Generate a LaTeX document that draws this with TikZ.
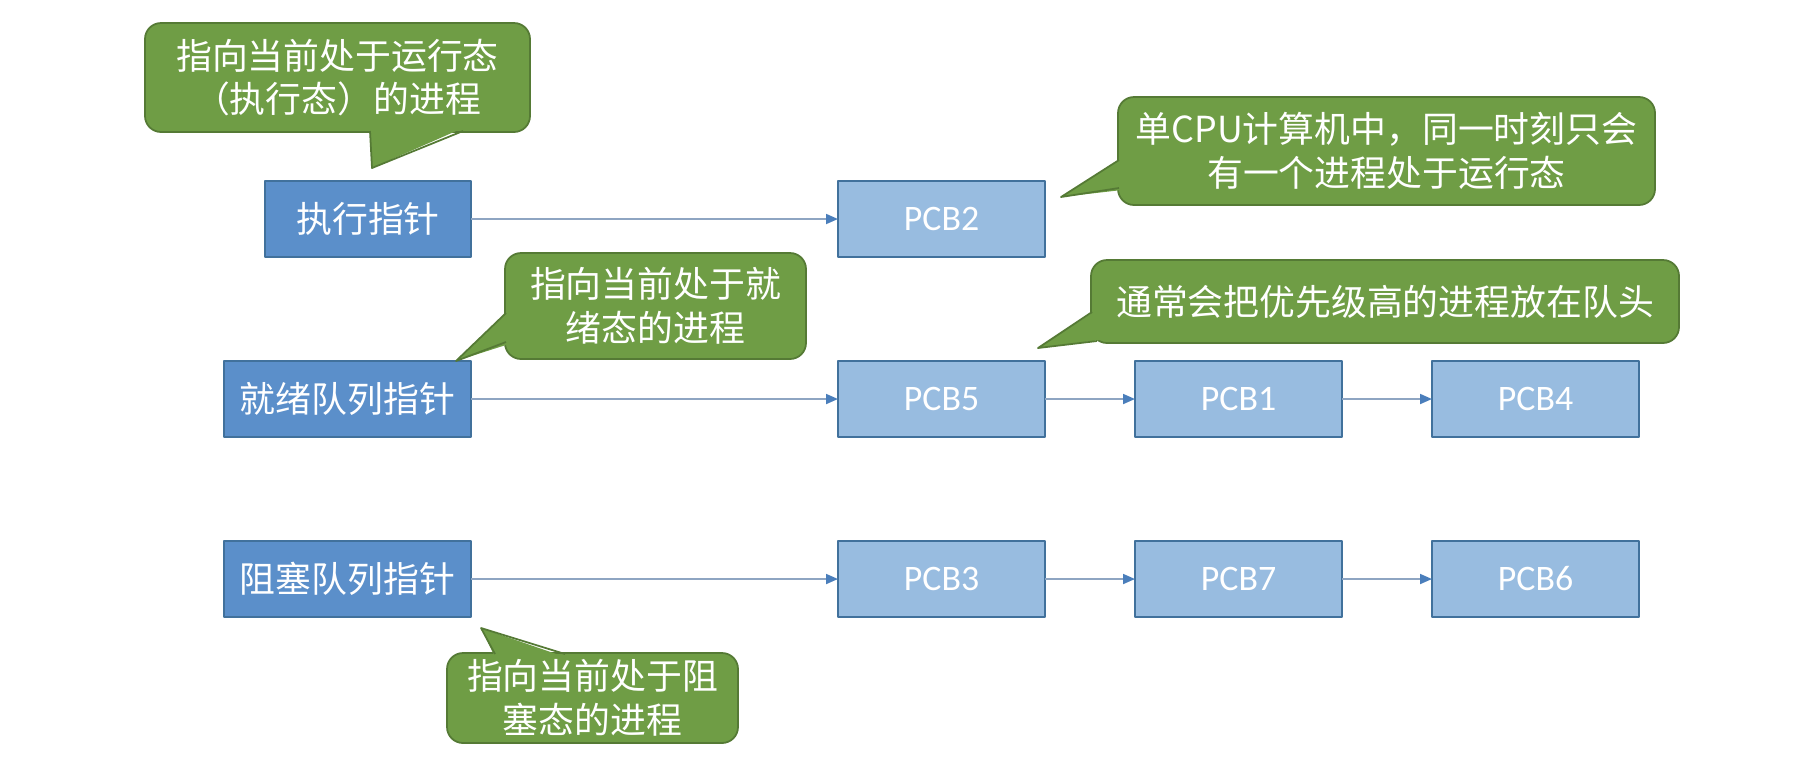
\documentclass[tikz,border=0pt]{standalone}
\usepackage{fontspec}
\setmainfont{Carlito}
\newfontfamily\cjk{Noto Sans CJK SC}
\usetikzlibrary{arrows.meta,positioning}
\definecolor{ptrblue}{HTML}{5B8FCA}
\definecolor{pcbblue}{HTML}{98BCE0}
\definecolor{boxedge}{HTML}{41719C}
\definecolor{notegreen}{HTML}{6F9D45}
\definecolor{noteedge}{HTML}{557A35}
\definecolor{linkgray}{HTML}{8EA5C2}
\definecolor{tipblue}{HTML}{4A7EBB}
\tikzset{
    every picture/.style={line join=round},
    ptrbox/.style={draw=boxedge,fill=ptrblue,line width=0.5pt,
      minimum height=7.6mm,inner sep=1pt,outer sep=0pt,
      text=white,font=\cjk\fontsize{10.2}{12.4}\selectfont},
    pcbbox/.style={draw=boxedge,fill=pcbblue,line width=0.5pt,
      minimum width=20.7mm,minimum height=7.6mm,inner sep=1pt,outer sep=0pt,
      text=white,font=\fontsize{10.2}{12.4}\selectfont},
    note/.style={draw=noteedge,fill=notegreen,line width=0.5pt,rounded corners=1.6mm,
      inner sep=1pt,outer sep=0pt,text=white,align=center,
      font=\cjk\fontsize{10.2}{12.4}\selectfont},
    notetail/.style={fill=notegreen},
    tailedge/.style={draw=noteedge,line width=0.5pt},
    link/.style={-{Triangle[length=1.2mm,width=1mm,color=tipblue]},draw=linkgray,
      line width=0.5pt}
}
\begin{document}
\begin{tikzpicture}[x=0.1mm,y=-0.1mm]
  \useasboundingbox (0,0) rectangle (1798,778);
  % pointer heads
  \node[ptrbox,minimum width=20.6mm] (execptr) at (368,219) {执行指针};
  \node[ptrbox,minimum width=24.7mm] (readyptr) at (347.5,399) {就绪队列指针};
  \node[ptrbox,minimum width=24.7mm] (blockptr) at (347.5,579) {阻塞队列指针};
  % PCB chains
  \node[pcbbox,right=36.7mm of execptr] (pcb2) {PCB2};
  \node[pcbbox,right=36.7mm of readyptr] (pcb5) {PCB5};
  \node[pcbbox,right=9mm of pcb5] (pcb1) {PCB1};
  \node[pcbbox,right=9mm of pcb1] (pcb4) {PCB4};
  \node[pcbbox,right=36.7mm of blockptr] (pcb3) {PCB3};
  \node[pcbbox,right=9mm of pcb3] (pcb7) {PCB7};
  \node[pcbbox,right=9mm of pcb7] (pcb6) {PCB6};
  \draw[link] (execptr) -- (pcb2);
  \draw[link] (readyptr) -- (pcb5);
  \draw[link] (pcb5) -- (pcb1);
  \draw[link] (pcb1) -- (pcb4);
  \draw[link] (blockptr) -- (pcb3);
  \draw[link] (pcb3) -- (pcb7);
  \draw[link] (pcb7) -- (pcb6);
  % callouts
  \node[note,minimum width=38.5mm,minimum height=10.9mm] (noterun) at (337.5,77.5)
    {指向当前处于运行态\\（执行态）的进程};
  \fill[notetail] (370,128) -- (372,168) -- (463,128) -- cycle;
  \draw[tailedge] (370,131) -- (372,168) -- (463,131);
  \node[note,minimum width=53.7mm,minimum height=10.8mm] (notecpu) at (1386.5,151)
    {单CPU计算机中，同一时刻只会\\有一个进程处于运行态};
  \fill[notetail] (1122,158) -- (1061,197) -- (1122,190) -- cycle;
  \draw[tailedge] (1119,160) -- (1061,197) -- (1119,188);
  \node[note,minimum width=30.1mm,minimum height=10.6mm] (noteready) at (655.5,306)
    {指向当前处于就\\绪态的进程};
  \fill[notetail] (509,311) -- (456,361) -- (509,344) -- cycle;
  \draw[tailedge] (506,313) -- (456,361) -- (506,342);
  \node[note,minimum width=58.8mm,minimum height=8.3mm] (notehead) at (1385,301.5)
    {通常会把优先级高的进程放在队头};
  \fill[notetail] (1095,311) -- (1038,348) -- (1100,340) -- cycle;
  \draw[tailedge] (1092,312) -- (1038,348) -- (1097,341);
  \node[note,minimum width=29.1mm,minimum height=9mm] (noteblock) at (592.5,698)
    {指向当前处于阻\\塞态的进程};
  \fill[notetail] (495,657) -- (481,628) -- (565,657) -- cycle;
  \draw[tailedge] (495,654) -- (481,628) -- (565,654);
\end{tikzpicture}
\end{document}
